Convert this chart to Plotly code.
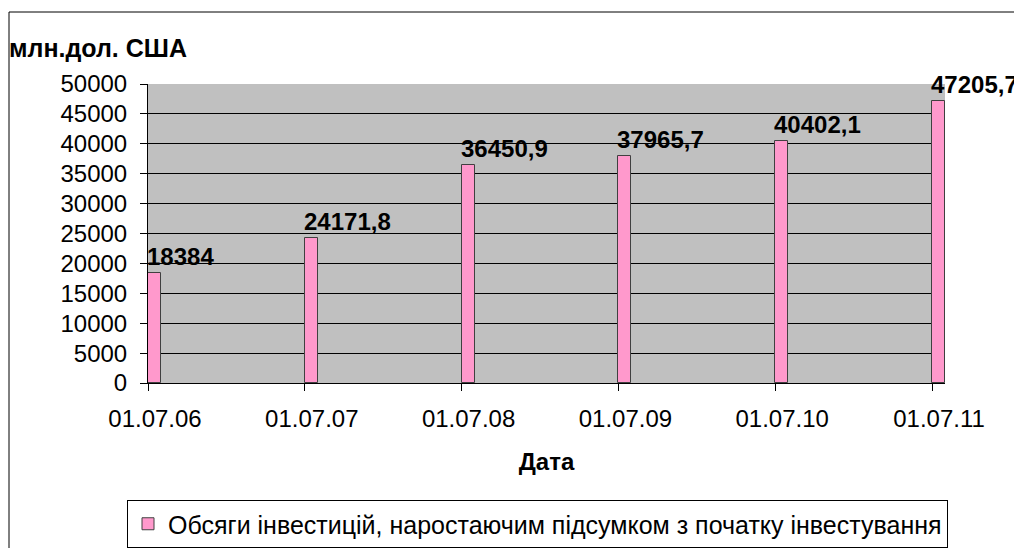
import plotly.graph_objects as go

dates = ["01.07.06", "01.07.07", "01.07.08", "01.07.09", "01.07.10", "01.07.11"]
values = [18384, 24171.8, 36450.9, 37965.7, 40402.1, 47205.7]
series_name = "Обсяги інвестицій, наростаючим підсумком з початку інвестування"
y_title = "млн.дол. США"
x_title = "Дата"

# page body has an 8px margin; work in figure coordinates (reference - 8)
OFF = 8
W, H = 1022 - OFF, 548 - OFF
L, R, T, B = 148 - OFF, 945 - OFF, 84 - OFF, 383 - OFF
pw, ph = R - L, B - T
n = len(dates)
bar_px = 13
step_px = (pw - bar_px) / (n - 1)
bw = bar_px / step_px
xpos = list(range(n))

def fmt(v):
    s = ("%.1f" % v).rstrip("0").rstrip(".")
    return s.replace(".", ",")

FONT = "Liberation Sans, Arial, sans-serif"

fig = go.Figure()
fig.add_trace(go.Bar(
    x=xpos, y=values, name=series_name,
    width=bw, offset=0,
    marker=dict(color="#FF99CC", line=dict(color="#404040", width=1)),
    showlegend=True,
))

for xi, v in zip(xpos, values):
    fig.add_annotation(x=xi, y=v, text=fmt(v), showarrow=False,
                       xanchor="left", yanchor="bottom", yshift=1, xshift=-3,
                       font=dict(family=FONT, size=24, color="black", weight="bold"))

fig.update_layout(
    width=W, height=H,
    margin=dict(l=L, r=W - R, t=T, b=H - B, autoexpand=False),
    paper_bgcolor="white", plot_bgcolor="#C0C0C0",
    font=dict(family=FONT, size=23, color="black"),
    title=dict(text=y_title, x=(9 - OFF) / W, xanchor="left", xref="container",
               y=1 - (48 - OFF) / H, yanchor="middle", yref="container",
               font=dict(family=FONT, size=25, color="black", weight="bold")),
    showlegend=True,
    legend=dict(x=(127 - OFF - L) / pw, xanchor="left", y=(B - (500 - OFF)) / ph, yanchor="top",
                bordercolor="black", borderwidth=1, bgcolor="white",
                font=dict(family=FONT, size=25, color="black"),
                itemwidth=30, orientation="h"),
    bargap=0,
)

fig.update_xaxes(
    range=[0, (n - 1) + bw], tickmode="array", tickvals=xpos, ticktext=dates,
    showgrid=False, zeroline=False, showline=True, linecolor="black", linewidth=1,
    ticks="outside", ticklen=7, tickcolor="black", ticklabelshift=7,
    ticklabelstandoff=7,
    tickfont=dict(family=FONT, size=24, color="black"),
    title=dict(text=x_title, standoff=22,
               font=dict(family=FONT, size=24, color="black", weight="bold")),
)
fig.update_yaxes(
    range=[0, 50000], dtick=5000, tickformat="d",
    showgrid=True, gridcolor="#000000", gridwidth=1, zeroline=False,
    showline=True, linecolor="black", linewidth=1,
    ticks="outside", ticklen=7, tickcolor="black", ticklabelstandoff=8,
    tickfont=dict(family=FONT, size=24, color="black"),
)

# outer chart border
fig.add_shape(type="rect", xref="paper", yref="paper",
              x0=(9 - OFF - L) / pw, x1=(W + 10 - L) / pw,
              y0=(B - (H + 10)) / ph, y1=(B - (12 - OFF)) / ph,
              line=dict(color="black", width=1), fillcolor="rgba(0,0,0,0)", layer="below")

fig.write_html("out.html")
